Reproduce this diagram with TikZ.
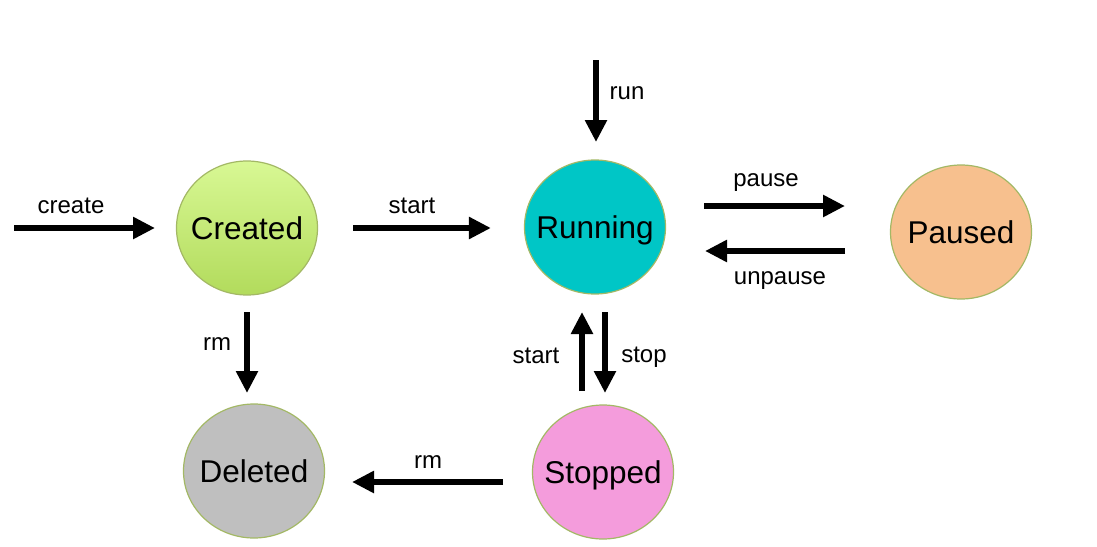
\documentclass[tikz,border=0pt]{standalone}
\usepackage{fontspec}
\setmainfont{Liberation Sans}
\usetikzlibrary{arrows.meta,shapes.geometric}
\definecolor{cborder}{HTML}{A3B865}
\definecolor{cgreenT}{HTML}{D8F894}
\definecolor{cgreenB}{HTML}{B2DB5C}
\definecolor{crun}{HTML}{00C6C6}
\definecolor{cpause}{HTML}{F7C08E}
\definecolor{cdel}{HTML}{BFBFBF}
\definecolor{cstop}{HTML}{F49CDC}
\newcommand{\zw}[1]{\makebox[0pt]{#1}}
\tikzset{
  state/.style={ellipse, draw=cborder, line width=1.2pt, minimum width=141pt, minimum height=134pt,
    inner sep=0pt, font=\fontsize{31.5pt}{36pt}\selectfont, text height=22.5pt, text depth=0pt},
  arr/.style={line width=6pt, -{Triangle[length=22pt,width=21pt]}},
  lbl/.style={anchor=base, font=\fontsize{24pt}{28pt}\selectfont, inner sep=0pt}
}
\begin{document}
\begin{tikzpicture}[x=1pt,y=-1pt]
\useasboundingbox (0,0) rectangle (1097,546);
% states
\node[state, top color=cgreenT, bottom color=cgreenB] (created) at (247,228) {\zw{Created}};
\node[state, fill=crun] (running) at (595,227) {\zw{Running}};
\node[state, fill=cpause] (paused) at (961,232) {\zw{Paused}};
\node[state, fill=cdel] (deleted) at (254,471) {\zw{Deleted}};
\node[state, fill=cstop] (stopped) at (603,472) {\zw{Stopped}};
% free ends
\coordinate (c0) at (14,228);
\coordinate (c1) at (155,228);
\coordinate (r0) at (596,60);
\coordinate (r1) at (596,142);
\coordinate (p0) at (704,206);
\coordinate (p1) at (845,206);
\coordinate (u0) at (845,251);
\coordinate (u1) at (705,251);
\coordinate (d0) at (247,312);
\coordinate (d1) at (247,393);
\coordinate (s0) at (582,391);
\coordinate (s1) at (582,312);
\coordinate (t0) at (605,312);
\coordinate (t1) at (605,393);
\coordinate (m0) at (503,482);
\coordinate (m1) at (352,482);
% connectors
\draw[arr] (c0) -- (c1);
\draw[arr, shorten <=35pt, shorten >=33pt] (created.east) -- (created.east -| running.west);
\draw[arr] (r0) -- (r1);
\draw[arr] (p0) -- (p1);
\draw[arr] (u0) -- (u1);
\draw[arr] (d0) -- (d1);
\draw[arr] (s0) -- (s1);
\draw[arr] (t0) -- (t1);
\draw[arr] (m0) -- (m1);
% labels
\node[lbl] (lcreate) at (71,213) {create};
\node[lbl] (lstart1) at (412,213) {start};
\node[lbl] (lrun) at (627,99) {run};
\node[lbl] (lpause) at (766,186) {pause};
\node[lbl] (lunpause) at (780,284) {unpause};
\node[lbl] (lrm1) at (217,350) {rm};
\node[lbl] (lstart2) at (536,363) {start};
\node[lbl] (lstop) at (644,362) {stop};
\node[lbl] (lrm2) at (428,468) {rm};
\end{tikzpicture}
\end{document}
